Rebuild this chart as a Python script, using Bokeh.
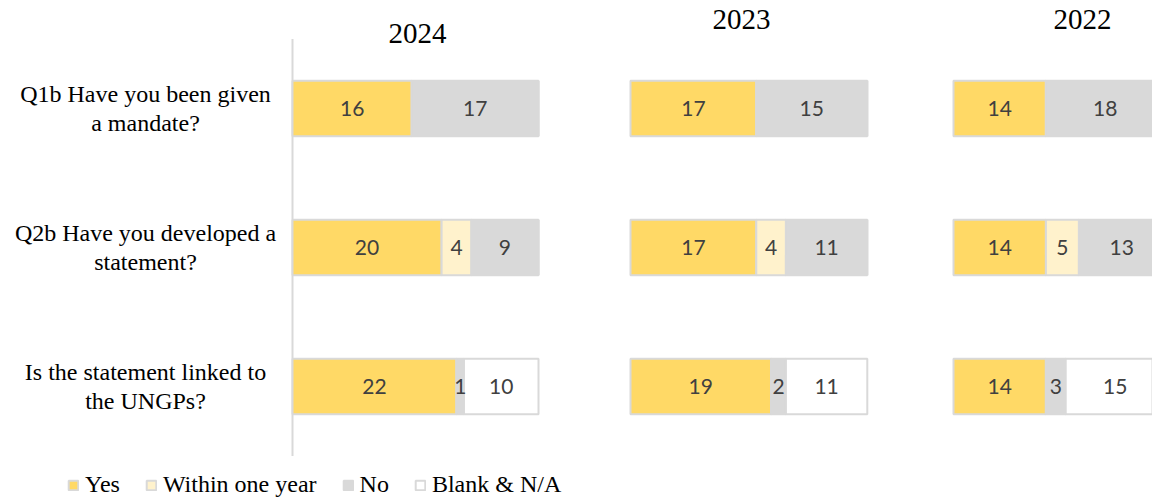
from bokeh.plotting import figure
from bokeh.models import Range1d, ColumnDataSource
from bokeh.core.properties import value
from bokeh.embed import file_html
from bokeh.resources import INLINE

# ---------------- data ----------------
questions = ["Q1b Have you been given\na mandate?",
             "Q2b Have you developed a\nstatement?",
             "Is the statement linked to\nthe UNGPs?"]
years = ["2024", "2023", "2022"]
series = ["Yes", "Within one year", "No", "Blank & N/A"]

yes_2024 = [16, 20, 22]
within_2024 = [0, 4, 0]
no_2024 = [17, 9, 1]
blank_2024 = [0, 0, 10]

yes_2023 = [17, 17, 19]
within_2023 = [0, 4, 0]
no_2023 = [15, 11, 2]
blank_2023 = [0, 0, 11]

yes_2022 = [14, 14, 14]
within_2022 = [0, 5, 0]
no_2022 = [18, 13, 3]
blank_2022 = [0, 0, 15]

panel_values = {
    "2024": [yes_2024, within_2024, no_2024, blank_2024],
    "2023": [yes_2023, within_2023, no_2023, blank_2023],
    "2022": [yes_2022, within_2022, no_2022, blank_2022],
}

# ---------------- style / layout ----------------
W, H = 1152, 498
fills = ["#FFD966", "#FFF2CC", "#D9D9D9", "#FFFFFF"]
SERIF = "Liberation Serif"
SANS = "Lato"
# pixel origin (frame px) and px per unit for each panel
panel_geom = {"2024": (292, 7.4545), "2023": (630, 7.40), "2022": (953, 6.60)}
title_dx = {"2024": 125, "2023": 111, "2022": 129}
row_px = 139.0
row0_px = 108.0
top = -row0_px / row_px
bottom = top + H / row_px
title_y = {"2024": top + 33 / row_px, "2023": top + 19 / row_px, "2022": top + 19 / row_px}

x0, s0 = panel_geom["2024"]
p = figure(width=W, height=H,
           x_range=Range1d(-x0 / s0, -x0 / s0 + W / s0),
           y_range=Range1d(bottom, top),
           output_backend="svg", toolbar_location=None,
           x_axis_location=None, y_axis_location=None, min_border=0)
p.grid.visible = False
p.outline_line_color = None
p.background_fill_color = "white"
p.border_fill_color = "white"

for yr in years:
    xo, sc = panel_geom[yr]
    p.extra_x_ranges["r" + yr] = Range1d(-xo / sc, -xo / sc + W / sc)

ys = list(range(len(questions)))

# vertical axis line of first panel
p.segment(x0=[0], x1=[0], y0=[-0.5], y1=[len(questions) - 0.5],
          line_color="#D9D9D9", line_width=2, x_range_name="r2024")

for yr in years:
    vals = panel_values[yr]
    data = {"y": ys}
    for name, v in zip(series, vals):
        data[name] = v
    src = ColumnDataSource(data)
    kw = {}
    if yr == "2024":
        kw["legend_label"] = series
    p.hbar_stack(series, y="y", height=0.4, source=src,
                 fill_color=fills, line_color="#D9D9D9", line_width=2,
                 x_range_name="r" + yr, **kw)

    # data labels
    lx, ly, lt = [], [], []
    for i in ys:
        left = 0
        for v in vals:
            if v[i] > 0:
                lx.append(left + v[i] / 2)
                ly.append(i)
                lt.append(str(v[i]))
            left += v[i]
    p.text(x=lx, y=ly, text=lt, x_range_name="r" + yr,
           text_font=value(SANS), text_font_size="21px", text_color="#404040",
           text_align="center", text_baseline="middle")

    # panel title
    p.text(x=[0], y=[title_y[yr]], text=[yr], x_offset=title_dx[yr],
           x_range_name="r" + yr,
           text_font=value(SERIF), text_font_size="29px", text_color="black",
           text_align="center", text_baseline="middle")

# category labels
p.text(x=[0] * len(questions), y=ys, text=questions, x_offset=-147,
       x_range_name="r2024",
       text_font=value(SERIF), text_font_size="24px", text_color="black",
       text_align="center", text_baseline="middle", text_line_height=1.15)

lg = p.legend[0]
lg.orientation = "horizontal"
lg.location = (67, 0)
lg.label_text_font = SERIF
lg.label_text_font_size = "24px"
lg.label_text_color = "black"
lg.glyph_width = 12
lg.glyph_height = 12
lg.label_standoff = 6
lg.spacing = 25
lg.padding = 0
lg.margin = 0
lg.border_line_color = None
lg.background_fill_alpha = 0

open("out.html", "w").write(file_html(p, INLINE))
